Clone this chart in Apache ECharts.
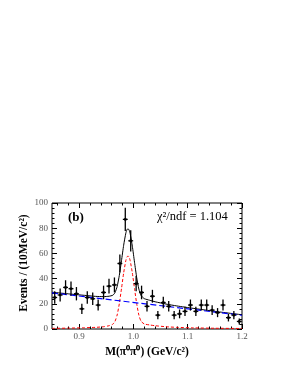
<!DOCTYPE html>
<html>
<head>
<meta charset="utf-8">
<script src="https://cdn.jsdelivr.net/npm/echarts@6/dist/echarts.min.js"></script>
<style>html,body{margin:0;padding:0;background:#fff}#c{width:284px;height:367px}</style>
</head>
<body>
<div id="c"></div>
<script>
// Data points (bin centers, counts, errors)
const binCenters = [0.855,0.865,0.875,0.885,0.895,0.905,0.915,0.925,0.935,0.945,0.955,0.965,0.975,0.985,0.995,1.005,1.015,1.025,1.035,1.045,1.055,1.065,1.075,1.085,1.095,1.105,1.115,1.125,1.135,1.145,1.155,1.165,1.175,1.185,1.195];
const counts = [25,27,33,32,28,16,25,24,19,29,34,35,52,87,70,36,29,18,26,11,21,18,11,12,14,19,14,19,19,15,13,19,9,11,6];
const errors = [5,5.2,5.7,5.7,5.3,4,5,4.9,4.4,5.4,5.8,5.9,7.2,9.3,8.4,6,5.4,4.2,5.1,3.3,4.6,4.2,3.3,3.5,3.7,4.4,3.7,4.4,4.4,3.9,3.6,4.4,3,3.3,2.4];
// Fit curves
const curveX = [0.85,0.88,0.91,0.93,0.945,0.955,0.962,0.966,0.970,0.974,0.978,0.982,0.986,0.988,0.990,0.992,0.994,0.998,1.002,1.006,1.010,1.014,1.020,1.030,1.040,1.060,1.080,1.110,1.150,1.200];
const signalY = [0.5,0.7,1.0,1.3,1.8,2.6,3.8,6.0,11.1,20.1,32,44.5,54.3,57.1,58,57.1,54.3,44.5,32,20.1,11.1,6.2,4.0,3.2,2.6,1.8,1.3,0.9,0.6,0.4];
const totalY = [29.2,27.9,26.7,25.9,25.7,26.0,26.8,28.8,33.7,42.5,54.2,66.5,76.1,78.8,79.6,78.6,75.7,65.7,53.0,40.9,31.7,26.6,24.1,22.8,21.6,19.8,18.3,16.4,14.0,11.3];
const bgX = [0.85, 1.2];
const bgY = [28.7, 10.9];
// Axis ticks
const xMajorTicks = [0.9,1.0,1.1,1.2];
const xMinorTicks = [0.86,0.88,0.90,0.92,0.94,0.96,0.98,1.00,1.02,1.04,1.06,1.08,1.10,1.12,1.14,1.16,1.18,1.20];

const zip = (a,b)=>a.map((v,i)=>[v,b[i]]);
const serif = 'Liberation Serif, Times New Roman, serif';

function xAxisDef(pos, ticks, len, showLabel){
  return {
    type:'value', min:0.85, max:1.2, position:pos,
    axisLine:{show:false}, splitLine:{show:false},
    axisTick:{show:true, inside:true, length:len, customValues:ticks, lineStyle:{color:'#000',width:1}},
    axisLabel:{show:showLabel, customValues:ticks, margin:3, fontFamily:serif, fontSize:9, color:'#555', formatter:v=>v.toFixed(1)}
  };
}
function yAxisDef(pos, showLabel){
  return {
    type:'value', min:0, max:100, interval:20, position:pos,
    axisLine:{show:false}, splitLine:{show:false},
    axisTick:{show:true, inside:true, length:5, lineStyle:{color:'#000',width:1}},
    minorTick:{show:true, splitNumber:5, length:2.5, lineStyle:{color:'#000',width:1}},
    axisLabel:{show:showLabel, margin:4, fontFamily:serif, fontSize:9, color:'#555'}
  };
}

const chart = echarts.init(document.getElementById('c'), null, {renderer:'canvas'});
chart.setOption({
  animation:false,
  backgroundColor:'#fff',
  grid:{left:52, right:42, top:203, bottom:38, show:true, borderColor:'#000', borderWidth:1, backgroundColor:'transparent'},
  xAxis:[
    xAxisDef('bottom', xMajorTicks, 5, true),
    xAxisDef('bottom', xMinorTicks, 2.5, false),
    xAxisDef('top', xMajorTicks, 5, false),
    xAxisDef('top', xMinorTicks, 2.5, false)
  ],
  yAxis:[ yAxisDef('left', true), yAxisDef('right', false) ],
  series:[
    {type:'line', data:zip(curveX,totalY), showSymbol:false, smooth:0.2, lineStyle:{color:'#000', width:1}, z:2},
    {type:'line', data:zip(curveX,signalY), showSymbol:false, smooth:0.2, lineStyle:{color:'#ff0000', width:1, type:[3,2]}, z:3},
    {type:'line', data:zip(bgX,bgY), showSymbol:false, lineStyle:{color:'#0000ff', width:1.2, type:[6,3]}, z:4},
    {type:'custom', z:5,
     data: binCenters.map((x,i)=>[x, counts[i], errors[i]]),
     renderItem:function(params, api){
       const x=api.value(0), y=api.value(1), e=api.value(2);
       const c=api.coord([x,y]), t=api.coord([x,y+e]), b=api.coord([x,y-e]);
       const l=api.coord([x-0.0045,y]), r=api.coord([x+0.0045,y]);
       return {type:'group', children:[
         {type:'line', shape:{x1:c[0],y1:t[1],x2:c[0],y2:b[1]}, style:{stroke:'#000', lineWidth:1.3}},
         {type:'line', shape:{x1:l[0],y1:c[1],x2:r[0],y2:c[1]}, style:{stroke:'#000', lineWidth:1.3}},
         {type:'rect', shape:{x:c[0]-1.2,y:c[1]-1.2,width:2.4,height:2.4}, style:{fill:'#000'}}
       ]};
     }}
  ],
  graphic:[
    {type:'text', left:68, top:211, style:{text:'(b)', font:'bold 13px '+serif, fill:'#000'}},
    {type:'text', left:157, top:210, style:{text:'χ²/ndf = 1.104', font:'12.5px '+serif, fill:'#000'}},
    {type:'text', x:24, y:263, rotation:Math.PI/2, style:{text:'Events / (10MeV/c²)', font:'bold 11.5px '+serif, fill:'#000', align:'center', verticalAlign:'middle'}},
    {type:'text', x:147, y:352, style:{text:'M(π⁰π⁰) (GeV/c²)', font:'bold 11.5px '+serif, fill:'#000', align:'center', verticalAlign:'middle'}}
  ]
});
</script>
</body>
</html>
